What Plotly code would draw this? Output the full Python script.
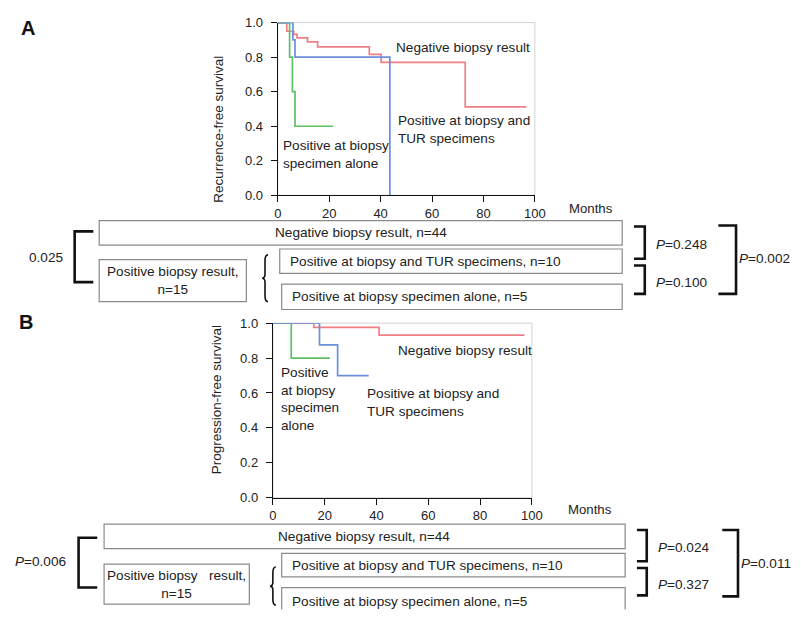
import plotly.graph_objects as go

W, H = 801, 618
FONT = "Liberation Sans, Arial, sans-serif"

# ---------------- data ----------------
# Panel A: recurrence-free survival
a_neg_t = [0, 3.5, 6.2, 7.5, 11.6, 15.5, 35.6, 40.2, 72.9, 96.7]
a_neg_s = [1.0, 0.950, 0.932, 0.912, 0.888, 0.860, 0.816, 0.770, 0.512, 0.512]
a_tur_t = [0, 5.9, 6.7, 43.6]
a_tur_s = [1.0, 0.9, 0.8, 0.0]
a_alone_t = [0, 4.6, 5.7, 6.7, 21.6]
a_alone_s = [1.0, 0.8, 0.6, 0.4, 0.4]

# Panel B: progression-free survival
b_neg_t = [0, 15.8, 41.0, 97.1]
b_neg_s = [1.0, 0.976, 0.931, 0.931]
b_tur_t = [0, 18.0, 25.0, 37.0]
b_tur_s = [1.0, 0.875, 0.70, 0.70]
b_alone_t = [0, 7.1, 22.0]
b_alone_s = [1.0, 0.8, 0.8]

x_ticks = [0, 20, 40, 60, 80, 100]
y_ticks = [0.0, 0.2, 0.4, 0.6, 0.8, 1.0]

p_a = ["0.025", "<i>P</i>=0.248", "<i>P</i>=0.100", "<i>P</i>=0.002"]
p_b = ["<i>P</i>=0.006", "<i>P</i>=0.024", "<i>P</i>=0.327", "<i>P</i>=0.011"]

RED, BLUE, GREEN = "#F07F86", "#6B8FDB", "#5FBF64"
TXT = "#222"
FS = 13.6


def px(x):
    return x / W


def py(y):
    return 1 - y / H


fig = go.Figure()


def add_curve(t, s, color, xa, ya):
    fig.add_trace(go.Scatter(x=t, y=s, mode="lines", line=dict(color=color, width=1.7, shape="hv"),
                             xaxis=xa, yaxis=ya, showlegend=False, hoverinfo="skip"))


add_curve(a_neg_t, a_neg_s, RED, "x", "y")
add_curve(a_alone_t, a_alone_s, GREEN, "x", "y")
add_curve(a_tur_t, a_tur_s, BLUE, "x", "y")
add_curve(b_neg_t, b_neg_s, RED, "x2", "y2")
add_curve(b_alone_t, b_alone_s, GREEN, "x2", "y2")
add_curve(b_tur_t, b_tur_s, BLUE, "x2", "y2")

axis_common = dict(showline=True, linecolor="#111", linewidth=1.2, ticks="outside", ticklen=6,
                   tickcolor="#111", showgrid=False, zeroline=False,
                   tickfont=dict(family=FONT, size=13, color=TXT))

A = dict(l=279, r=541, t=16, b=193)
B = dict(l=274, r=538, t=324, b=503)

fig.update_layout(
    width=W, height=H, margin=dict(l=0, r=0, t=0, b=0),
    paper_bgcolor="white", plot_bgcolor="white", showlegend=False,
    xaxis=dict(domain=[px(A["l"]), px(A["r"])], range=[0, 100], tickvals=x_ticks, anchor="y", **axis_common),
    yaxis=dict(domain=[py(A["b"]), py(A["t"])], range=[0, 1], tickvals=y_ticks, tickformat=".1f",
               anchor="x", ticklabelstandoff=5, **axis_common),
    xaxis2=dict(domain=[px(B["l"]), px(B["r"])], range=[0, 100], tickvals=x_ticks, anchor="y2", **axis_common),
    yaxis2=dict(domain=[py(B["b"]), py(B["t"])], range=[0, 1], tickvals=y_ticks, tickformat=".1f",
                anchor="x2", ticklabelstandoff=5, **axis_common),
)

shapes = []
annots = []


def text(x, y, s, size=FS, xanchor="left"):
    annots.append(dict(x=px(x), y=py(y), xref="paper", yref="paper", text=s, showarrow=False,
                       xanchor=xanchor, yanchor="middle", align=xanchor if xanchor != "center" else "center",
                       font=dict(family=FONT, size=size, color=TXT),
                       borderpad=0))


def path(points, width=2.6, color="#111", closed=False):
    d = "M " + " L ".join(f"{px(x):.5f},{py(y):.5f}" for x, y in points) + (" Z" if closed else "")
    shapes.append(dict(type="path", xref="paper", yref="paper", path=d, line=dict(color=color, width=width)))


def rect(x0, y0, x1, y1, color="#8a8a8a", width=1.2):
    path([(x0, y0), (x1, y0), (x1, y1), (x0, y1)], width=width, color=color, closed=True)


def open_rect(x0, y0, x1, y1, color="#8a8a8a", width=1.2):
    path([(x0, y1), (x0, y0), (x1, y0), (x1, y1)], width=width, color=color)


def bracket(xv, xarm, y0, y1):
    path([(xarm, y0), (xv, y0), (xv, y1), (xarm, y1)])


def brace(x, y0, y1):
    m = (y0 + y1) / 2
    d = (f"M {px(x+3):.5f},{py(y0):.5f} Q {px(x):.5f},{py(y0):.5f} {px(x):.5f},{py(y0+6):.5f} "
         f"L {px(x):.5f},{py(m-4):.5f} Q {px(x):.5f},{py(m):.5f} {px(x-3):.5f},{py(m):.5f} "
         f"Q {px(x):.5f},{py(m):.5f} {px(x):.5f},{py(m+4):.5f} "
         f"L {px(x):.5f},{py(y1-6):.5f} Q {px(x):.5f},{py(y1):.5f} {px(x+3):.5f},{py(y1):.5f}")
    shapes.append(dict(type="path", xref="paper", yref="paper", path=d, line=dict(color="#111", width=1.6)))


# light grey frame of the plot areas
for P in (A, B):
    shapes.append(dict(type="rect", xref="paper", yref="paper", x0=px(P["l"]), x1=px(P["r"]),
                       y0=py(P["b"]), y1=py(P["t"]), line=dict(color="#d4d4d4", width=1), layer="below"))

# panel letters
annots.append(dict(x=px(24), y=py(22), xref="paper", yref="paper", text="<b>A</b>", showarrow=False,
                   xanchor="center", yanchor="middle", font=dict(family=FONT, size=20, color="#111")))
annots.append(dict(x=px(22), y=py(323), xref="paper", yref="paper", text="<b>B</b>", showarrow=False,
                   xanchor="center", yanchor="middle", font=dict(family=FONT, size=20, color="#111")))

# axis titles
annots.append(dict(x=px(219), y=py(125), xref="paper", yref="paper", text="Recurrence-free survival",
                   textangle=-90, showarrow=False, xanchor="center", yanchor="middle",
                   font=dict(family=FONT, size=13.5, color=TXT)))
annots.append(dict(x=px(216), y=py(402), xref="paper", yref="paper", text="Progression-free survival",
                   textangle=-90, showarrow=False, xanchor="center", yanchor="middle",
                   font=dict(family=FONT, size=13.5, color=TXT)))
text(575, 207, "Months", 13.2)
text(574, 515, "Months", 13.2)

# curve labels
text(398, 42, "Negative biopsy result")
text(400, 126, "Positive at biopsy and<br>TUR specimens")
text(283, 151, "Positive at biopsy<br>specimen alone")
text(400, 352, "Negative biopsy result")
text(369, 405, "Positive at biopsy and<br>TUR specimens")
text(281, 402, "Positive<br>at biopsy<br>specimen<br>alone")

# ---------- box diagram A ----------
rect(97, 219, 630, 244)
text(364, 231.5, "Negative biopsy result, n=44", FS, "center")
rect(97, 259, 247, 302)
text(172, 280.5, "Positive biopsy result,<br>n=15", FS, "center")
rect(281, 248, 630, 273)
text(290, 261, "Positive at biopsy and TUR specimens, n=10")
rect(283, 284, 630, 310)
text(292, 297, "Positive at biopsy specimen alone, n=5")
brace(266, 254, 302)
bracket(72, 91, 230, 282)
text(43, 257, p_a[0], FS, "center")
bracket(653, 642, 225, 258)
bracket(653, 642, 265, 294)
bracket(746, 728, 224, 294)
text(663, 243, p_a[1])
text(663, 282, p_a[2])
text(748, 258, p_a[3])

# ---------- box diagram B ----------
rect(102, 530, 633, 555)
text(367, 543, "Negative biopsy result, n=44", FS, "center")
rect(102, 571, 250, 612)
text(176, 592, "Positive biopsy &nbsp; result,<br>n=15", FS, "center")
rect(283, 560, 633, 584)
text(292, 572, "Positive at biopsy and TUR specimens, n=10")
open_rect(283, 595, 633, 617.5)
text(292, 609, "Positive at biopsy specimen alone, n=5")
brace(274, 574, 613)
bracket(76, 95, 544, 595)
text(37, 568, p_b[0], FS, "center")
bracket(655, 645, 536, 568)
bracket(655, 645, 575, 603)
bracket(748, 732, 536, 604)
text(665, 554, p_b[1])
text(665, 592, p_b[2])
text(750, 570, p_b[3])

fig.update_layout(shapes=shapes, annotations=annots)
fig.write_html("out.html", config={"displayModeBar": False},
               post_script="document.body.style.margin='0';document.body.style.overflow='hidden';")
